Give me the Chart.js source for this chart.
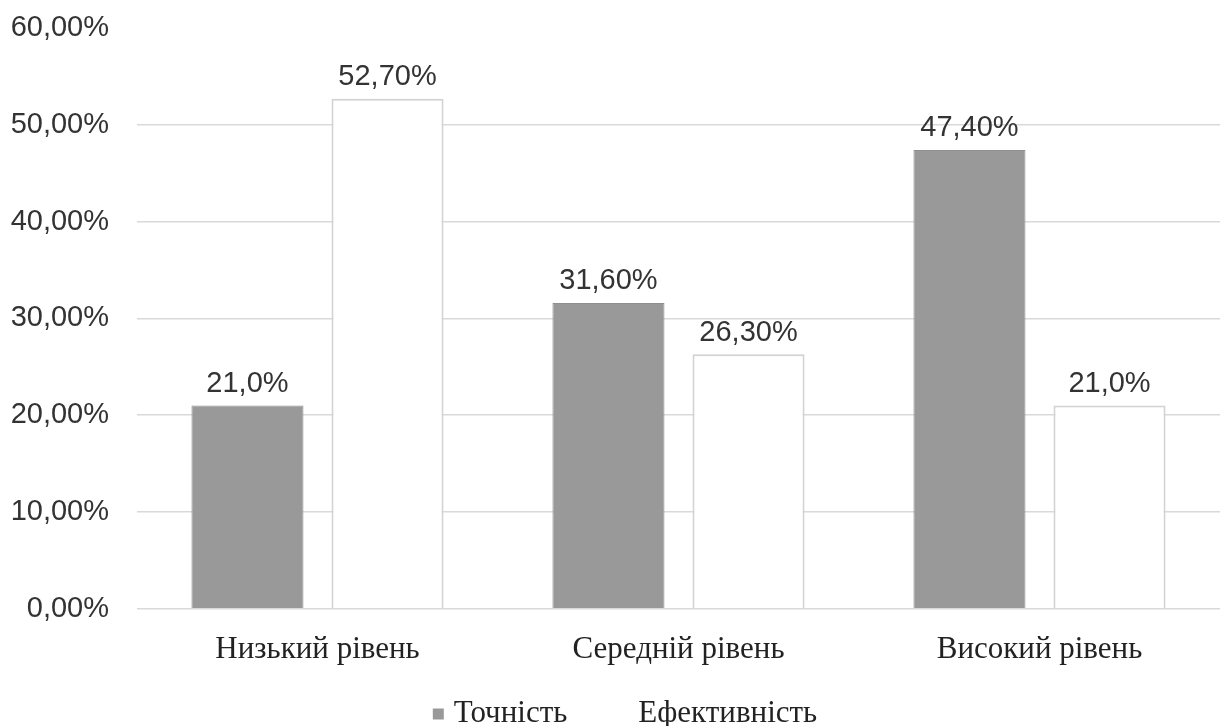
<!DOCTYPE html>
<html>
<head>
<meta charset="utf-8">
<script src="https://cdn.jsdelivr.net/npm/chart.js@4"></script>
<style>
  html, body { margin: 0; padding: 0; background: #fff; }
</style>
</head>
<body>
<canvas id="chart" width="1230" height="726"></canvas>
<script>
// Дані діаграми
const categories = ['Низький рівень', 'Середній рівень', 'Високий рівень'];
const seriesNames = ['Точність', 'Ефективність'];
const accuracy = [21.0, 31.6, 47.4];
const efficiency = [52.7, 26.3, 21.0];
const accuracyLabels = ['21,0%', '31,60%', '47,40%'];
const efficiencyLabels = ['52,70%', '26,30%', '21,0%'];
const yTicks = [0, 10, 20, 30, 40, 50, 60];

const serif = '"Liberation Serif", "DejaVu Serif", serif';
const sans = '"Liberation Sans", Arial, sans-serif';

// підписи над стовпчиками
const barLabels = {
    id: 'barLabels',
    afterDatasetsDraw(chart) {
        const ctx = chart.ctx;
        ctx.save();
        ctx.font = '29px ' + sans;
        ctx.fillStyle = '#333';
        ctx.textAlign = 'center';
        ctx.textBaseline = 'bottom';
        chart.data.datasets.forEach((ds, i) => {
            chart.getDatasetMeta(i).data.forEach((bar, j) => {
                ctx.fillText(ds.labels[j], bar.x, bar.y - 7);
            });
        });
        ctx.restore();
    }
};

// легенда внизу (своя, щоб задати відступи)
const bottomLegend = {
    id: 'bottomLegend',
    afterDraw(chart) {
        const ctx = chart.ctx;
        ctx.save();
        ctx.font = '31px ' + serif;
        ctx.textBaseline = 'middle';
        const box = 11, gap = 10, itemGap = 50;
        const ds = chart.data.datasets;
        const widths = ds.map(d => box + gap + ctx.measureText(d.label).width);
        const total = widths.reduce((a, b) => a + b, 0) + itemGap * (ds.length - 1);
        let x = chart.width / 2 + 10 - total / 2;
        const y = chart.height - 12;
        ds.forEach((d, i) => {
            ctx.fillStyle = d.backgroundColor;
            ctx.fillRect(x, y - box / 2, box, box);
            ctx.fillStyle = '#222';
            ctx.fillText(d.label, x + box + gap, y);
            x += widths[i] + itemGap;
        });
        ctx.restore();
    }
};

const ctx = document.getElementById('chart').getContext('2d');

const chart = new Chart(ctx, {
    type: 'bar',
    data: {
        labels: categories,
        datasets: [{
            label: seriesNames[0],
            data: accuracy,
            labels: accuracyLabels,
            backgroundColor: '#999999',
            borderColor: '#8f8f8f',
            borderWidth: 1,
            categoryPercentage: 0.776,
            barPercentage: 0.8
        }, {
            label: seriesNames[1],
            data: efficiency,
            labels: efficiencyLabels,
            backgroundColor: '#ffffff',
            borderColor: '#d2d2d2',
            borderWidth: 2,
            categoryPercentage: 0.776,
            barPercentage: 0.8
        }]
    },
    options: {
        responsive: false,
        animation: false,
        layout: { padding: { top: 28, right: 10, left: 0, bottom: 36 } },
        plugins: {
            tooltip: { enabled: false },
            legend: { display: false }
        },
        scales: {
            x: {
                grid: { display: false, drawTicks: false },
                border: { display: false },
                ticks: {
                    font: { family: serif, size: 31 },
                    color: '#222',
                    padding: 22
                }
            },
            y: {
                min: 0,
                max: 60,
                afterBuildTicks(axis) {
                    axis.ticks = yTicks.map(v => ({ value: v }));
                },
                afterFit(axis) {
                    axis.width = 137;
                    axis.paddingTop = 0;
                    axis.paddingBottom = 0;
                },
                grid: {
                    color: c => (c.tick && c.tick.value === 60) ? 'rgba(0,0,0,0)' : '#d9d9d9',
                    lineWidth: 1.5,
                    drawTicks: false
                },
                border: { display: false },
                ticks: {
                    font: { family: sans, size: 29 },
                    color: '#333',
                    padding: 28,
                    callback: v => v.toFixed(2).replace('.', ',') + '%'
                }
            }
        }
    },
    plugins: [barLabels, bottomLegend]
});
</script>
</body>
</html>
